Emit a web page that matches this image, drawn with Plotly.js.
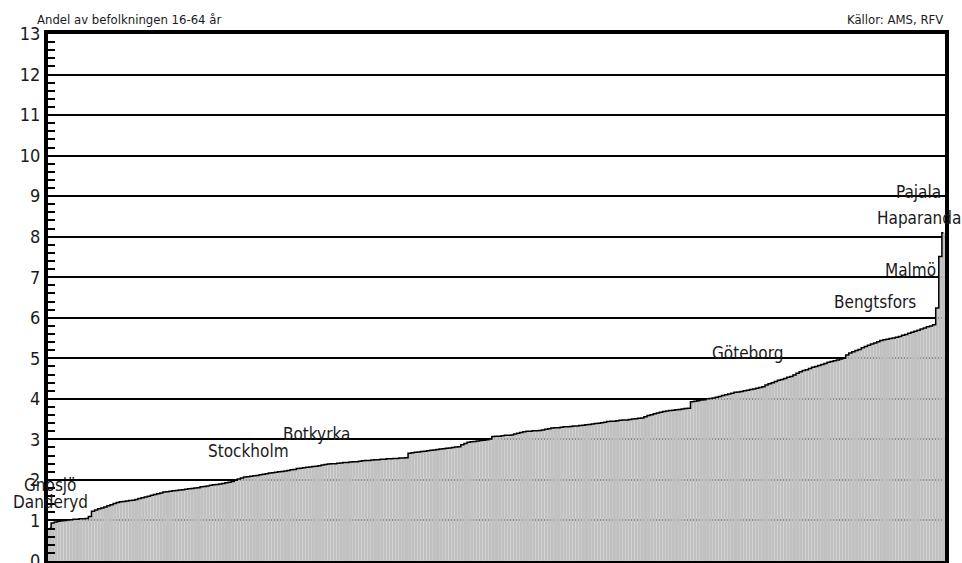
<!DOCTYPE html>
<html>
<head>
<meta charset="utf-8">
<script src="https://cdn.plot.ly/plotly-3.0.1.min.js"></script>
<style>
  body { margin: 0; background: #fff; }
  #chart { width: 962px; height: 563px; }
</style>
</head>
<body>
<div id="chart"></div>
<script>
// andel av befolkningen 16-64 år, kommunerna sorterade (289 st)
var shares = [
  0.81,
  0.94, 0.96, 0.98, 0.99, 1.00, 1.01, 1.02, 1.03, 1.03,
  1.04, 1.04, 1.05, 1.10,
  1.23, 1.26, 1.29,
  1.31, 1.33, 1.36, 1.39, 1.42, 1.44,
  1.46, 1.47, 1.48, 1.49, 1.50,
  1.52, 1.54, 1.56, 1.58, 1.60, 1.62, 1.64, 1.66, 1.68, 1.70,
  1.71, 1.72, 1.73, 1.74, 1.75, 1.76, 1.77, 1.78, 1.79, 1.80, 1.81, 1.83,
  1.84, 1.85, 1.87, 1.88, 1.89, 1.90, 1.91, 1.93, 1.94, 1.96,
  1.99, 2.02, 2.05, 2.07,
  2.08, 2.09, 2.10, 2.11, 2.13, 2.14, 2.15, 2.17,
  2.18, 2.19, 2.20, 2.21, 2.22, 2.23, 2.25,
  2.26, 2.28, 2.29, 2.30, 2.31, 2.32, 2.33, 2.34, 2.35, 2.37,
  2.38, 2.39, 2.40, 2.40, 2.41, 2.42,
  2.43, 2.43, 2.44, 2.45, 2.45, 2.46, 2.47,
  2.48, 2.48, 2.49, 2.50, 2.50, 2.51, 2.51, 2.52, 2.52, 2.53, 2.53, 2.54, 2.54, 2.55,
  2.66, 2.67, 2.68, 2.69, 2.70, 2.71, 2.72, 2.73, 2.74,
  2.75, 2.76, 2.77, 2.78, 2.79, 2.80, 2.81, 2.82,
  2.87, 2.90, 2.93,
  2.94, 2.95, 2.96, 2.97, 2.98, 2.99, 3.01,
  3.07, 3.08, 3.08, 3.09, 3.10, 3.10, 3.11,
  3.13, 3.15, 3.17, 3.19,
  3.20, 3.20, 3.21, 3.21, 3.22, 3.23, 3.25, 3.26, 3.28,
  3.29, 3.29, 3.30, 3.31, 3.31, 3.32, 3.33, 3.33, 3.34, 3.35, 3.36,
  3.37, 3.38, 3.39, 3.40, 3.41, 3.42, 3.44,
  3.45, 3.45, 3.46, 3.47, 3.48, 3.48, 3.49, 3.50, 3.51, 3.52, 3.53,
  3.56, 3.59, 3.61, 3.63, 3.65, 3.67, 3.69,
  3.70, 3.71, 3.72, 3.73, 3.74, 3.75, 3.76, 3.77,
  3.93, 3.94, 3.95, 3.97, 3.98, 4.00, 4.01, 4.02, 4.04, 4.06,
  4.08, 4.10, 4.12, 4.14, 4.16,
  4.17, 4.18, 4.20, 4.21, 4.23, 4.24, 4.26, 4.28, 4.30,
  4.34, 4.37, 4.40, 4.43,
  4.46, 4.48, 4.50, 4.53, 4.55,
  4.59, 4.63, 4.67, 4.70,
  4.72, 4.75, 4.78, 4.80,
  4.82, 4.85, 4.87, 4.90, 4.92,
  4.94, 4.96, 4.98, 5.00,
  5.08, 5.13,
  5.16, 5.19, 5.22, 5.26, 5.29,
  5.32, 5.35, 5.38, 5.41, 5.44,
  5.46, 5.47, 5.49, 5.50, 5.52,
  5.54, 5.57, 5.59, 5.62,
  5.64, 5.67, 5.69, 5.72, 5.75,
  5.78, 5.80, 5.83,
  6.24, 7.51, 8.10
];

// utmärkta kommuner och var namnen står (index, nivå)
var names   = ['Gnosjö', 'Danderyd', 'Stockholm', 'Botkyrka', 'Göteborg', 'Bengtsfors', 'Malmö', 'Haparanda', 'Pajala'];
var nameX   = [0.3, 0.3, 64, 86, 225, 266, 277.5, 280, 280];
var nameY   = [1.88, 1.46, 2.72, 3.14, 5.14, 6.40, 7.19, 8.47, 9.11];

var yTicks = [0, 1, 2, 3, 4, 5, 6, 7, 8, 9, 10, 11, 12, 13];

var FONT = '"DejaVu Sans Condensed", "Liberation Sans Narrow", "Arial Narrow", sans-serif';

var bars = {
  type: 'bar',
  y: shares,
  marker: {color: '#c0c0c0', line: {width: 0}},
  hoverinfo: 'y'
};

var edge = {
  type: 'scatter',
  mode: 'lines',
  y: shares,
  line: {color: '#000', width: 1.5, shape: 'hvh'},
  hoverinfo: 'skip'
};

var notes = names.map(function (n, i) {
  return {
    x: nameX[i], y: nameY[i], xref: 'x', yref: 'y',
    text: n, showarrow: false,
    xanchor: 'center', yanchor: 'middle',
    font: {family: FONT, size: 17, color: '#1a1a1a'}
  };
});

notes.push({
  xref: 'paper', yref: 'paper', x: -0.015, y: 1.01,
  xanchor: 'left', yanchor: 'bottom', showarrow: false,
  text: 'Andel av befolkningen 16-64 år',
  font: {family: FONT, size: 13, color: '#1a1a1a'}
});
notes.push({
  xref: 'paper', yref: 'paper', x: 1, y: 1.01,
  xanchor: 'right', yanchor: 'bottom', showarrow: false,
  text: 'Källor: AMS, RFV',
  font: {family: FONT, size: 13, color: '#1a1a1a'}
});

var layout = {
  width: 962,
  height: 563,
  margin: {l: 48, r: 17, t: 34, b: 2},
  paper_bgcolor: '#fff',
  plot_bgcolor: '#fff',
  showlegend: false,
  bargap: 0.03,
  font: {family: FONT, size: 17, color: '#1a1a1a'},
  xaxis: {
    range: [-0.5, shares.length - 0.5],
    showticklabels: false,
    ticks: '',
    showgrid: false,
    zeroline: false,
    showline: true,
    mirror: true,
    linecolor: '#000',
    linewidth: 4
  },
  yaxis: {
    range: [0, 13],
    tickvals: yTicks,
    ticktext: yTicks.map(String),
    ticks: 'inside',
    ticklen: 10,
    tickwidth: 2,
    tickcolor: '#000',
    ticklabeloverflow: 'allow',
    showgrid: true,
    gridcolor: '#000',
    gridwidth: 2,
    zeroline: false,
    showline: true,
    mirror: true,
    linecolor: '#000',
    linewidth: 4,
    minor: {dtick: 0.2, ticks: 'inside', ticklen: 7, tickwidth: 2, tickcolor: '#000', showgrid: false},
    tickfont: {family: FONT, size: 18, color: '#1a1a1a'}
  },
  annotations: notes
};

Plotly.newPlot('chart', [bars, edge], layout, {displayModeBar: false, responsive: false});
</script>
</body>
</html>
